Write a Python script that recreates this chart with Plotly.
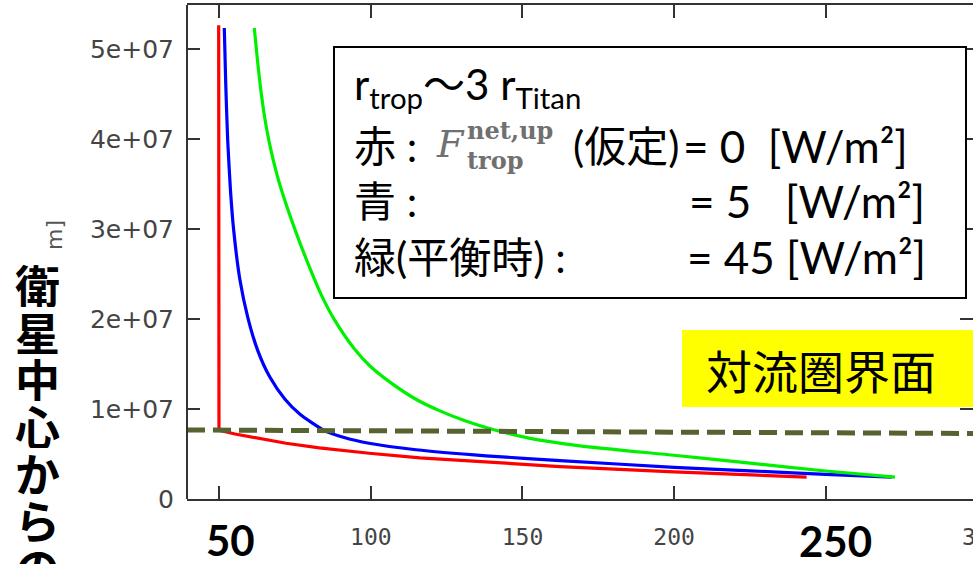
import plotly.graph_objects as go

# Tropopause temperature [K] against distance from Titan's centre [m]
red_temp = [49.8, 49.9, 55.18, 61.02, 66.72, 72.0, 82.98, 99.47, 116.19, 137.96, 162.37,
            199.97, 225.03, 243.73]
red_dist = [5.263e7, 7.63e6, 7.22e6, 6.86e6, 6.49e6, 6.19e6, 5.69e6, 5.08e6, 4.58e6, 4.08e6,
            3.60e6, 3.02e6, 2.69e6, 2.44e6]

blue_temp = [51.65, 52.14, 52.77, 53.69, 54.75, 56.83, 59.37, 62.66, 66.72, 71.67, 76.62,
             84.53, 91.46, 99.37, 114.87, 137.96, 162.37, 199.97, 225.03, 250.0, 271.77]
blue_dist = [5.233e7, 4.597e7, 3.986e7, 3.43e7, 2.986e7, 2.43e7, 2.022e7, 1.652e7, 1.352e7,
             1.108e7, 9.41e6, 7.63e6, 6.80e6, 6.19e6, 5.47e6, 4.80e6, 4.27e6, 3.52e6,
             3.13e6, 2.74e6, 2.44e6]

green_temp = [61.54, 62.60, 63.92, 65.40, 67.05, 70.02, 75.30, 79.91, 83.87, 88.16, 94.52,
              99.70, 106.63, 114.56, 122.56, 131.04, 140.27, 152.48, 168.97, 199.97, 225.03,
              250.0, 272.86]
green_dist = [5.233e7, 4.874e7, 4.486e7, 4.152e7, 3.874e7, 3.486e7, 2.963e7, 2.563e7, 2.252e7,
              1.982e7, 1.670e7, 1.478e7, 1.290e7, 1.114e7, 9.82e6, 8.69e6, 7.72e6, 6.74e6,
              5.91e6, 4.86e6, 3.99e6, 3.11e6, 2.44e6]

# Tropopause level (dashed)
trop_temp = [39.35, 298.6]
trop_dist = [7.67e6, 7.28e6]

x_ticks = [50, 100, 150, 200, 250]
x_tick_text = ["", "100", "150", "200", ""]
y_ticks = [0, 1e7, 2e7, 3e7, 4e7, 5e7]
y_tick_text = ["0", "1e+07", "2e+07", "3e+07", "4e+07", "5e+07"]

W, H = 973, 564
L, R, T, B = 187, 0, 5, 65
PW, PH = W - L - R, H - T - B


def px(x):
    return (x - L) / PW


def py(y):
    return (H - B - y) / PH


SLIDE = "Lato, 'Noto Sans CJK JP', sans-serif"
CJK = "'Noto Sans CJK JP', sans-serif"
MATH = "'DejaVu Serif', 'Liberation Serif', serif"

fig = go.Figure()
fig.add_trace(go.Scatter(x=red_temp, y=red_dist, mode="lines",
                         line=dict(color="#ff0000", width=3.2), hoverinfo="skip"))
fig.add_trace(go.Scatter(x=blue_temp, y=blue_dist, mode="lines",
                         line=dict(color="#0000ff", width=3.2, shape="spline", smoothing=0.6),
                         hoverinfo="skip"))
fig.add_trace(go.Scatter(x=green_temp, y=green_dist, mode="lines",
                         line=dict(color="#00f000", width=3.2, shape="spline", smoothing=0.6),
                         hoverinfo="skip"))
fig.add_trace(go.Scatter(x=trop_temp, y=trop_dist, mode="lines",
                         line=dict(color="#566230", width=5, dash="18px,8px"),
                         hoverinfo="skip"))

shapes = [
    # left frame edge
    dict(type="line", xref="paper", yref="paper", x0=0, x1=0, y0=0, y1=1,
         line=dict(color="#333333", width=2)),
    # legend box
    dict(type="rect", xref="paper", yref="paper", x0=px(334), x1=px(966), y0=py(298), y1=py(47),
         fillcolor="white", line=dict(color="black", width=2), layer="above"),
    # highlighted label
    dict(type="rect", xref="paper", yref="paper", x0=px(682), x1=px(980), y0=py(407), y1=py(330),
         fillcolor="#ffff00", line=dict(width=0), layer="above"),
]

ann = []


def text(x, y, s, size, family=SLIDE, color="black", xanchor="left", yanchor="middle",
         angle=0, height=None):
    a = dict(x=px(x), y=py(y), xref="paper", yref="paper", text=s, showarrow=False,
             xanchor=xanchor, yanchor=yanchor, textangle=angle,
             font=dict(size=size, family=family, color=color))
    if height:
        a["height"] = height
    ann.append(a)


nb = "\u00a0"
# legend text
text(352, 87, "r<sub>trop</sub>〜3 r<sub>Titan</sub>", 42)
text(352, 146, "赤" + nb + ":", 42)
text(434, 144, "<i>F</i>", 38, family=MATH, color="#707070")
text(465, 130, "<b>net,up</b>", 24, family=MATH, color="#707070")
text(465, 160, "<b>trop</b>", 24, family=MATH, color="#707070")
text(571, 146, "(仮定)", 42)
text(681, 146, "=" + nb + "0" + nb + nb + "[W/m²]", 44)
text(352, 201, "青" + nb + ":", 42)
text(687, 201, "=" + nb + "5" + nb + nb + nb + "[W/m²]", 44)
text(352, 257, "緑(平衡時)" + nb + ":", 42)
text(685, 257, "=" + nb + "45" + nb + "[W/m²]", 44)

text(821, 369, "対流圏界面", 46, family=CJK, xanchor="center")

# vertical axis caption
for i, ch in enumerate("衛星中心からの"):
    text(37, 284 + i * 47, "<b>" + ch + "</b>", 45, family=CJK, xanchor="center", height=46)
text(55, 235, "m]", 22, family="'DejaVu Sans', sans-serif", color="#555555",
     xanchor="center", angle=-90)

# enlarged x labels and cut-off label at the right edge
text(230, 540, "<b>50</b>", 42, xanchor="center", height=42)
text(835, 541, "<b>250</b>", 42, xanchor="center", height=42)
text(983, 537, "300", 23, family="'DejaVu Sans Mono', monospace", color="#444444",
     xanchor="center")

fig.update_layout(
    width=W, height=H,
    margin=dict(l=L, r=R, t=T, b=B),
    paper_bgcolor="white", plot_bgcolor="white",
    showlegend=False,
    shapes=shapes, annotations=ann,
    xaxis=dict(range=[39.35, 298.6], tickvals=x_ticks, ticktext=x_tick_text,
               showgrid=False, zeroline=False, showline=True, mirror="ticks",
               linecolor="#333333", linewidth=2, ticks="inside", ticklen=13,
               tickcolor="#333333", tickwidth=2, ticklabelstandoff=16,
               tickfont=dict(family="'DejaVu Sans Mono', monospace", size=23, color="#444444")),
    yaxis=dict(range=[0, PH / 90 * 1e7], tickvals=y_ticks, ticktext=y_tick_text,
               showgrid=False, zeroline=False, showline=False, mirror="ticks",
               ticks="inside", ticklen=13, tickcolor="#333333", tickwidth=2,
               ticklabelstandoff=12,
               tickfont=dict(family="'DejaVu Sans', sans-serif", size=25, color="#444444")),
)

fig.write_html("out.html")
